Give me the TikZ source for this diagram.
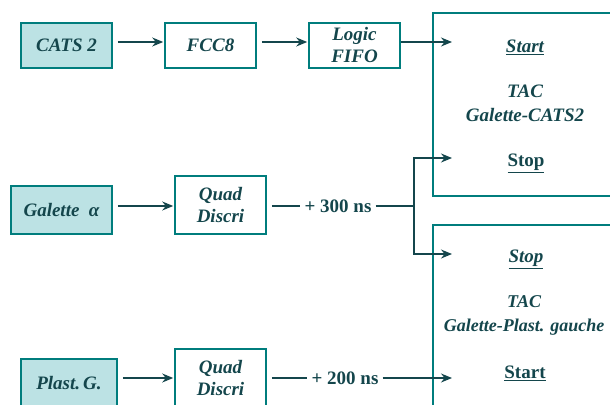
\documentclass[tikz,border=0pt]{standalone}
\usepackage{fontspec}
\setmainfont{Liberation Serif}
\usetikzlibrary{arrows.meta}
\definecolor{boxcol}{RGB}{0,125,125}
\definecolor{txtcol}{RGB}{20,70,76}
\definecolor{fillcol}{RGB}{188,226,228}
\begin{document}
\begin{tikzpicture}[x=1pt,y=-1pt,
  blk/.style={draw=boxcol,line width=1.6pt,minimum width=91pt,minimum height=45pt,inner sep=0pt,
    font=\fontsize{19}{22}\selectfont\bfseries\itshape,text=txtcol,align=center},
  src/.style={blk,fill=fillcol},
  lab/.style={font=\fontsize{19}{22}\selectfont\bfseries,text=txtcol,inner sep=4pt},
  tac/.style={draw=boxcol,line width=1.6pt,inner sep=0pt},
  intxt/.style={font=\fontsize{19}{24}\selectfont\bfseries\itshape,text=txtcol,align=center},
  ul/.style={font=\fontsize{19}{22}\selectfont\bfseries,text=txtcol},
  uli/.style={font=\fontsize{19}{22}\selectfont\bfseries\itshape,text=txtcol},
  conn/.style={draw=txtcol,line width=1.3pt},
  arr/.style={conn,-{Stealth[length=11pt,width=9pt]}}]
\useasboundingbox (0,0) rectangle (610,404);
% TAC boxes
\node[tac,minimum width=220pt,minimum height=183pt] (tac1) at (543,104.5) {};
\node[tac,minimum width=220pt,minimum height=200pt] (tac2) at (543,325) {};
% sources and modules
\node[src] (cats) at (66.5,45.5) {CATS 2};
\node[blk] (fcc) at (210.5,45.5) {FCC8};
\node[blk] (fifo) at (354.5,45.5) {Logic\\FIFO};
\node[src,minimum width=101pt,minimum height=48pt] (gal) at (61.5,210) {Galette\ \ α};
\node[blk,minimum height=58pt] (qd1) at (220.5,205) {Quad\\Discri};
\node[src,minimum width=96pt,minimum height=48pt] (plast) at (69,383) {Plast.\,G.};
\node[blk,minimum height=58pt] (qd2) at (220.5,378) {Quad\\Discri};
% texts inside TAC boxes
\node[uli] (st1) at (525,47) {\underline{Start}};
\node[intxt] (t1) at (525,103) {TAC\\Galette-CATS2};
\node[ul] (sp1) at (526,163) {\underline{Stop}};
\node[uli] (sp2) at (526,259) {\underline{Stop}};
\node[intxt,font=\fontsize{18}{24}\selectfont\bfseries\itshape] (t2) at (524,315) {TAC\\Galette-Plast. gauche};
\node[ul] (st2) at (525,373) {\underline{Start}};
% delay labels
\node[lab] (d1) at (338,206) {+ 300 ns};
\node[lab] (d2) at (345,378) {+ 200 ns};
% coordinates
\coordinate (a1) at (452,42);
\coordinate (br) at (414,206);
\coordinate (a2) at (452,158);
\coordinate (a3) at (452,254);
\coordinate (a4) at (452,378);
% connectors
\draw[arr,shorten <=5pt,shorten >=1pt] (cats.east |- 0,42) -- (fcc.west |- 0,42);
\draw[arr,shorten <=5pt,shorten >=1pt] (fcc.east |- 0,42) -- (fifo.west |- 0,42);
\draw[arr] (fifo.east |- 0,42) -- (a1);
\draw[arr,shorten <=5pt,shorten >=1pt] (gal.east |- 0,206) -- (qd1.west |- 0,206);
\draw[conn,shorten <=5pt] (qd1.east |- 0,206) -- (d1.west);
\draw[conn] (d1.east) -- (br);
\draw[arr] (br) |- (a2);
\draw[arr] (br) |- (a3);
\draw[arr,shorten <=5pt,shorten >=1pt] (plast.east |- 0,378) -- (qd2.west |- 0,378);
\draw[conn,shorten <=5pt] (qd2.east |- 0,378) -- (d2.west);
\draw[arr] (d2.east) -- (a4);
\end{tikzpicture}
\end{document}
